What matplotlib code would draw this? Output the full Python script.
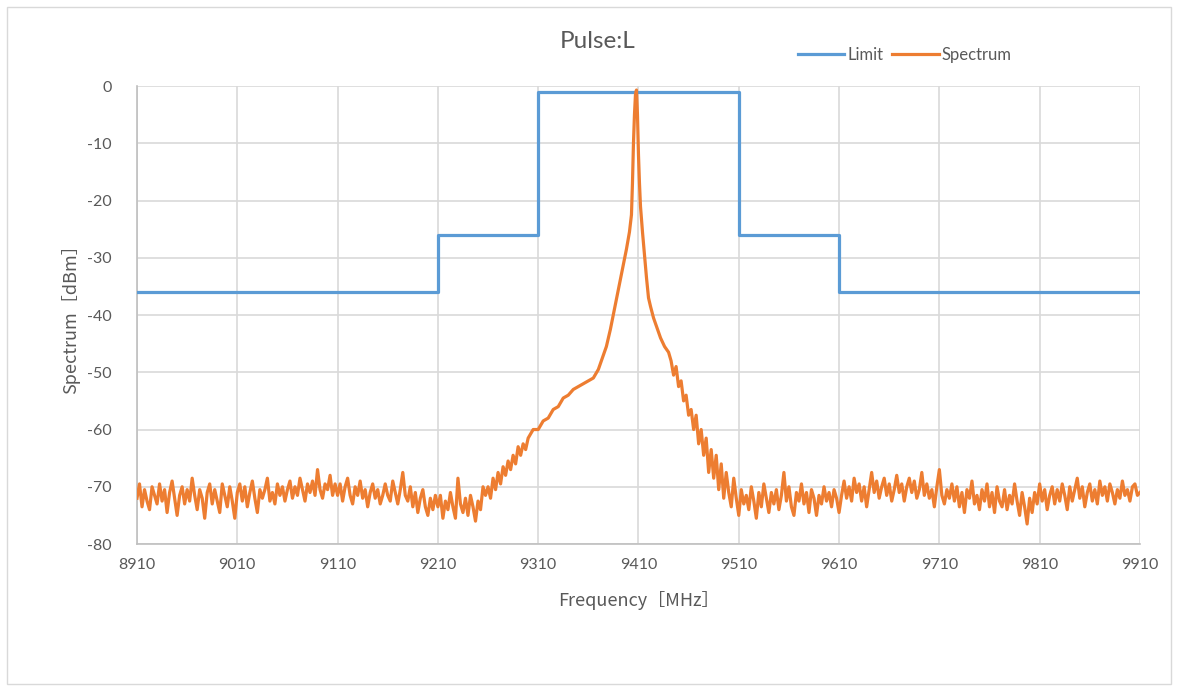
import numpy as np
import matplotlib
matplotlib.use("Agg")
import matplotlib.pyplot as plt
from matplotlib.patches import Rectangle

plt.rcParams['font.family'] = ['Lato', 'Noto Sans CJK JP', 'DejaVu Sans']
plt.rcParams['axes.unicode_minus'] = False

# limit mask (step function)
limit_freq = [8910, 9210, 9310, 9510, 9610, 9910]
limit_level = [-36, -26, -1, -26, -36, -36]

# spectrum, left noise floor (2.5 MHz step, 8910..9297.5)
left_freq = np.arange(8910, 9300, 2.5)
left_level = [
    -72.0, -69.5, -73.5, -70.5, -72.5, -74.0, -70.0, -71.5, -73.0, -69.5,
    -72.5, -70.5, -74.5, -71.0, -69.0, -72.0, -75.0, -71.5, -70.0, -73.0,
    -70.5, -72.5, -68.5, -71.5, -74.0, -70.5, -72.0, -75.5, -71.0, -69.5,
    -73.0, -70.5, -72.5, -74.5, -69.5, -71.5, -73.5, -70.0, -72.5, -75.5,
    -71.0, -69.5, -72.5, -70.0, -73.5, -71.0, -69.0, -72.0, -74.5, -70.5,
    -72.0, -70.5, -68.5, -72.5, -71.0, -73.0, -69.5, -71.5, -70.0, -72.5,
    -70.5, -69.0, -72.0, -70.0, -71.5, -68.5, -70.5, -72.5, -69.5, -71.0,
    -69.0, -71.5, -67.0, -70.5, -72.0, -69.5, -70.5, -68.0, -71.5, -69.5,
    -71.5, -69.5, -72.5, -70.0, -68.5, -71.5, -73.0, -70.0, -71.5, -69.0,
    -72.0, -70.5, -73.5, -71.0, -69.5, -72.0, -70.5, -73.0, -71.5, -69.5,
    -71.5, -72.5, -69.0, -71.0, -73.0, -70.5, -67.5, -71.5, -72.5, -70.0,
    -73.5, -71.0, -74.5, -72.0, -70.5, -73.5, -75.0, -72.0, -74.0, -71.5,
    -73.5, -71.5, -75.5, -72.5, -74.0, -71.0, -73.5, -75.5, -68.5, -73.0,
    -74.5, -72.0, -75.0, -71.5, -73.5, -76.0, -72.5, -74.0, -70.0, -71.5,
    -70.0, -72.0, -68.5, -70.5, -67.5, -69.5, -66.5, -68.0, -65.5, -67.0,
    -64.5, -66.0, -63.0, -64.5, -62.5, -63.5,
]

# lower skirt, left side (5 MHz step, 9300..9365)
skirt_freq = np.arange(9300, 9366, 5)
skirt_level = [-61.5, -60.0, -60.0, -58.5, -58.0, -56.5, -56.0, -54.5, -54.0, -53.0,
               -52.5, -52.0, -51.5, -51.0]

# spectrum around the carrier
peak_freq = [9370, 9374, 9378, 9382, 9386, 9390, 9394, 9398, 9401, 9403,
             9404, 9405, 9406, 9407, 9408, 9409, 9410, 9411, 9412, 9414,
             9416, 9418, 9420, 9422, 9425, 9428, 9432, 9436]
peak_level = [-49.5, -47.5, -45.5, -42.5, -39.0, -35.5, -32.0, -28.5, -25.5, -22.5,
              -17.0, -10.0, -5.0, -1.5, -0.7, -5.0, -12.0, -17.0, -21.0, -25.5,
              -29.5, -33.5, -37.0, -38.5, -40.5, -42.0, -44.0, -45.5]

# right skirt + noise floor (2.5 MHz step, 9440..9910)
right_freq = np.arange(9440, 9911, 2.5)
right_level = [
    -46.5, -48.0, -50.5, -49.0, -52.5, -51.5, -55.0, -54.0, -57.5, -56.5,
    -60.0, -57.5, -62.5, -60.0, -64.5, -61.5, -67.5, -63.5, -68.5, -64.5,
    -70.5, -66.0, -72.0, -67.5,
    -71.0, -73.5, -68.5, -72.0, -75.0, -70.5, -73.0, -71.5, -74.0, -70.0,
    -72.5, -75.5, -71.0, -73.5, -69.5, -72.0, -74.5, -71.0, -73.0, -70.5,
    -74.0, -71.5, -67.5, -72.5, -70.0, -73.5, -75.0, -71.0, -72.5, -69.5,
    -73.0, -71.0, -74.5, -70.5, -72.0, -75.0, -71.5, -73.0, -70.0, -72.5,
    -71.0, -73.5, -70.5, -72.0, -74.5, -71.5, -69.0, -72.0, -70.0, -72.5,
    -68.5, -71.0, -69.5, -72.5, -70.0, -73.5, -70.5, -67.5, -71.0, -69.0,
    -72.0, -70.0, -68.5, -71.5, -69.5, -72.5, -70.5, -68.0, -71.0, -69.5,
    -72.5, -70.0, -68.5, -71.0, -69.0, -72.0, -70.5, -67.5, -71.5, -69.5,
    -72.0, -70.5, -73.5, -70.0, -67.0, -71.5, -73.0, -70.5, -72.0, -69.5,
    -72.5, -70.0, -73.5, -71.0, -74.5, -70.5, -72.0, -69.0, -73.0, -71.5,
    -74.0, -70.5, -72.5, -69.5, -73.5, -71.0, -74.5, -70.0, -72.5, -73.5,
    -70.5, -74.0, -71.5, -73.0, -69.5, -72.5, -75.0, -71.0, -73.5, -76.5,
    -72.0, -74.5, -71.0, -73.0, -69.5, -72.5, -70.5, -74.0, -71.5, -70.0,
    -73.0, -70.5, -72.5, -69.5, -71.5, -74.0, -70.0, -72.5, -70.5, -68.5,
    -72.0, -70.0, -73.5, -71.0, -69.5, -72.5, -70.5, -73.0, -69.0, -71.5,
    -70.0, -72.5, -69.5, -71.0, -73.0, -70.5, -72.0, -69.0, -71.5, -70.5,
    -72.5, -70.0, -69.5, -71.5, -71.0,
]

x_ticks = list(range(8910, 9911, 100))
y_ticks = list(range(-80, 1, 10))

spec_freq = np.concatenate([left_freq, skirt_freq, peak_freq, right_freq])
spec_level = np.concatenate([left_level, skirt_level, peak_level, right_level])

fig = plt.figure(figsize=(11.78, 6.91), dpi=100)
ax = fig.add_axes([0.1163, 0.2127, 0.8514, 0.6628])

grid_c = '#d9d9d9'
text_c = '#595959'

ax.plot(limit_freq, limit_level, drawstyle='steps-post', color='#5B9BD5',
        lw=2.3, label='Limit', zorder=3)
ax.plot(spec_freq, spec_level, color='#ED7D31', lw=2.3, label='Spectrum', zorder=4)

ax.set_xlim(8910, 9910)
ax.set_ylim(-80, 0)
ax.set_xticks(x_ticks)
ax.set_yticks(y_ticks)
ax.grid(True, color=grid_c, lw=1.2)
ax.set_axisbelow(True)
for s in ['top', 'right']:
    ax.spines[s].set_visible(False)
for s in ['left', 'bottom']:
    ax.spines[s].set_color('#bfbfbf')
    ax.spines[s].set_linewidth(1.2)
ax.tick_params(length=0, labelsize=11.5, labelcolor=text_c)
ax.tick_params(axis='y', pad=18)
ax.tick_params(axis='x', pad=10)

lab_font = ['Noto Sans CJK JP', 'DejaVu Sans']
ax.set_xlabel('Frequency［MHz］', fontsize=13, color=text_c, labelpad=14, family=lab_font)
ax.set_ylabel('Spectrum［dBm］', fontsize=13, color=text_c, labelpad=5, family=lab_font)

fig.text(0.507, 0.94, 'Pulse:L', ha='center', va='center', fontsize=17.5, color=text_c)
fig.legend(loc='center', bbox_to_anchor=(0.768, 0.92), ncol=2, frameon=False,
           fontsize=12, handlelength=2.8, handletextpad=0.2, columnspacing=0.5,
           labelcolor=text_c)

fig.patches.append(Rectangle((0.006, 0.01), 0.988, 0.98, transform=fig.transFigure,
                             fill=False, edgecolor=grid_c, lw=1))

fig.savefig('out.png', dpi=100, facecolor='white')
